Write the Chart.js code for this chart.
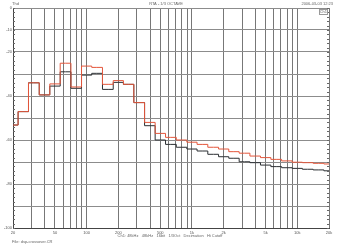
<!DOCTYPE html>
<html>
<head>
<meta charset="utf-8">
<script src="https://cdn.jsdelivr.net/npm/chart.js@4.4.0/dist/chart.umd.min.js"></script>
<style>
  html, body { margin: 0; padding: 0; background: #fff; }
</style>
</head>
<body>
<canvas id="rta" width="341" height="246"></canvas>
<script>
'use strict';

// 1/3 octave band centres, Hz
let bands = [20, 25, 31.5, 40, 50, 63, 80, 100, 125, 160, 200, 250, 315, 400, 500, 630,
  800, 1000, 1250, 1600, 2000, 2500, 3150, 4000, 5000, 6300, 8000, 10000, 12500, 16000, 20000];

// levels in dB
let redLevels = [-53.2, -47.1, -34.0, -39.5, -34.5, -25.1, -35.9, -26.4, -27.0, -34.7, -33.0, -34.7, -43.0, -52.0, -57.0, -58.8,
  -60.0, -61.0, -62.0, -63.3, -64.1, -65.3, -66.0, -67.3, -68.0, -68.8, -69.5, -70.1, -70.3, -70.6, -70.9];
let blackLevels = [-53.2, -47.1, -34.0, -39.5, -35.5, -29.0, -36.5, -30.5, -29.7, -37.0, -33.8, -34.7, -43.0, -53.5, -60.0, -62.0,
  -63.3, -64.1, -65.0, -66.5, -67.6, -68.3, -69.9, -70.3, -71.4, -72.1, -72.6, -72.9, -73.3, -73.6, -74.0];

// grid + tick labels
let xGrid = [20, 30, 40, 50, 60, 70, 80, 90, 100, 200, 300, 400, 500, 600, 700, 800, 900,
  1000, 2000, 3000, 4000, 5000, 6000, 7000, 8000, 9000, 10000, 20000];
let xLabelValues = [20, 50, 100, 200, 500, 1000, 2000, 5000, 10000, 20000];
let xLabelText = ['20', '50', '100', '200', '500', '1k', '2k', '5k', '10k', '20k'];
let yGrid = [0, -10, -20, -30, -40, -50, -60, -70, -80, -90, -100];
let yLabelValues = [0, -10, -20, -40, -60, -80, -100];
let yLabelText = ['0', '-10', '-20', '-40', '-60', '-80', '-100'];

const tinyFont = { family: 'Liberation Sans', size: 4 };

function toPoints(levels) {
  let pts = [];
  for (let i = 0; i < bands.length; i++) {
    pts.push({ x: bands[i], y: levels[i] });
  }
  return pts;
}

// header/footer texts and the small minor ticks along both y edges
const decorations = {
  id: 'decorations',
  afterDraw(chart) {
    let ctx = chart.ctx;
    let area = chart.chartArea;
    let y = chart.scales.y;
    ctx.save();
    ctx.strokeStyle = '#666';
    ctx.lineWidth = 1;
    ctx.beginPath();
    for (let v = 0; v >= -100; v -= 2) {
      let py = Math.round(y.getPixelForValue(v)) + 0.5;
      ctx.moveTo(area.left, py); ctx.lineTo(area.left + 2, py);
      ctx.moveTo(area.right - 2, py); ctx.lineTo(area.right, py);
    }
    ctx.stroke();

    ctx.fillStyle = '#666';
    ctx.font = '4px "Liberation Sans"';
    ctx.textBaseline = 'middle';
    ctx.textAlign = 'left';
    ctx.fillText('Thd', 12, 4);
    ctx.fillText('File: dsp-crossover.CR', 12, 242);
    ctx.textAlign = 'center';
    ctx.fillText('RTA - 1/3 OCTAVE', 166, 4);
    ctx.fillText('Ch1: 48kHz   48kHz   16bit   1/3Oct   Decimation   Hi Cutoff', 170, 236);
    ctx.textAlign = 'right';
    ctx.fillText('2006-03-03 12:23', 333, 4);
    // channel tag in the top right corner
    ctx.fillText('Ch1', area.right - 2, area.top + 4);
    ctx.strokeStyle = '#999';
    ctx.strokeRect(area.right - 9.5, area.top + 1.5, 8, 5);
    ctx.restore();
  }
};

let chartEl = document.getElementById('rta');
let ctx = chartEl.getContext('2d');

// eslint-disable-next-line no-unused-vars
let rtaChart = new Chart(ctx, {
  type: 'line',
  data: {
    datasets: [{
      label: 'Ch1 red',
      data: toPoints(redLevels),
      borderColor: '#e4573c',
      borderWidth: 1,
      pointRadius: 0,
      stepped: 'middle',
      fill: false
    }, {
      label: 'Ch1 black',
      data: toPoints(blackLevels),
      borderColor: '#2b2f33',
      borderWidth: 1,
      pointRadius: 0,
      stepped: 'middle',
      fill: false
    }]
  },
  options: {
    responsive: false,
    animation: false,
    layout: { padding: { top: 8, right: 12, left: 0, bottom: 0 } },
    plugins: {
      legend: { display: false },
      tooltip: { enabled: false }
    },
    scales: {
      x: {
        type: 'logarithmic',
        min: 20,
        max: 20000,
        afterBuildTicks: (s) => { s.ticks = xGrid.map(v => ({ value: v })); },
        afterFit: (s) => { s.height = 18; },
        grid: { color: '#777', lineWidth: 1, drawTicks: false },
        border: { color: '#444' },
        ticks: {
          font: tinyFont,
          color: '#555',
          padding: 2,
          maxRotation: 0,
          autoSkip: false,
          callback: (v) => {
            let i = xLabelValues.indexOf(v);
            return i === -1 ? '' : xLabelText[i];
          }
        }
      },
      y: {
        type: 'linear',
        min: -100,
        max: 0,
        afterBuildTicks: (s) => { s.ticks = yGrid.map(v => ({ value: v })); },
        afterFit: (s) => { s.width = 13; },
        grid: { color: '#8c8c8c', lineWidth: 1, drawTicks: false },
        border: { color: '#444' },
        ticks: {
          font: tinyFont,
          color: '#555',
          padding: 1,
          autoSkip: false,
          callback: (v) => {
            let i = yLabelValues.indexOf(v);
            return i === -1 ? '' : yLabelText[i];
          }
        }
      }
    }
  },
  plugins: [decorations]
});
</script>
</body>
</html>
